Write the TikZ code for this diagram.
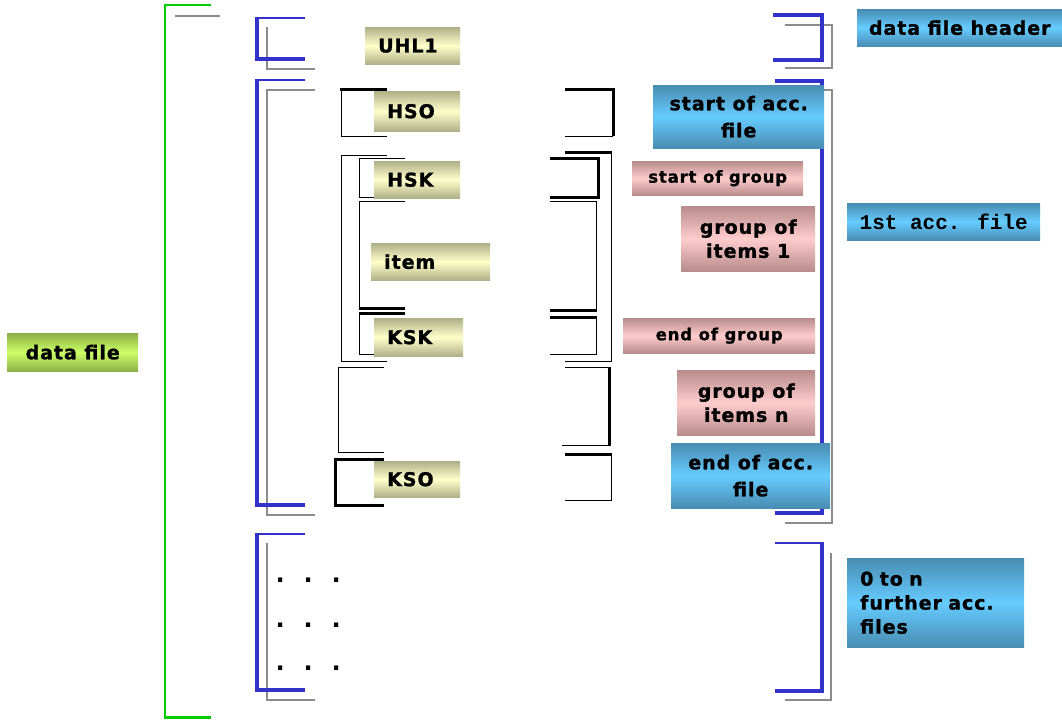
\documentclass[tikz,border=0pt]{standalone}
\usepackage{fontspec}
\setmainfont{DejaVu Sans}
\newfontfamily\vb{DejaVu Sans Bold}[LetterSpace=5,FakeBold=1.2]
\newfontfamily\mb{Liberation Mono}
\definecolor{khD}{RGB}{176,176,136}
\definecolor{khL}{RGB}{255,255,204}
\definecolor{blD}{RGB}{72,140,178}
\definecolor{blL}{RGB}{102,204,255}
\definecolor{pkD}{RGB}{184,140,140}
\definecolor{pkL}{RGB}{255,204,204}
\definecolor{grD}{RGB}{140,176,72}
\definecolor{grL}{RGB}{204,255,102}
\definecolor{bbl}{RGB}{51,51,204}
\definecolor{gln}{RGB}{0,204,0}
\definecolor{gsh}{RGB}{140,140,140}
\begin{document}
\begin{tikzpicture}[x=1pt,y=-1pt,
  bluethick/.style={draw=bbl,line width=4pt},
  bluethin/.style={draw=bbl,line width=1.6pt},
  grayline/.style={draw=gsh,line width=2pt},
  blk/.style={draw=black,line width=1pt},
  blkthick/.style={draw=black,line width=3pt},
  lbl/.style={shade,anchor=north west,inner ysep=0pt,inner xsep=0pt,align=center},
  khaki/.style={lbl,top color=khD,bottom color=khD,middle color=khL,
     font=\vb\fontsize{19}{24}\selectfont,align=left,inner xsep=13pt},
  bluebox/.style={lbl,top color=blD,bottom color=blD,middle color=blL,
     font=\vb\fontsize{19}{27}\selectfont},
  pinkbox/.style={lbl,top color=pkD,bottom color=pkD,middle color=pkL,
     font=\vb\fontsize{19}{24}\selectfont},
  pinksmall/.style={pinkbox,font=\vb\fontsize{16.5}{18}\selectfont},
  greenbox/.style={lbl,top color=grD,bottom color=grD,middle color=grL,
     font=\vb\fontsize{19}{24}\selectfont},
  dotrow/.style={anchor=base west,inner sep=0pt,font=\bfseries\fontsize{24}{24}\selectfont}
]
\useasboundingbox (0,0) rectangle (1062,724);

% green outer bracket
\draw[draw=gln,line width=1.5pt] (211,5) -- (165,5) -- (165,718);
\draw[draw=gln,line width=3pt] (164.25,717) -- (211,717);
\draw[grayline] (175,16) -- (220,16);

% left blue brackets + gray shadows
\draw[grayline] (267,27) -- (267,69) -- (315,69);
\draw[bluethin] (305,18) -- (257,18);
\draw[bluethick] (257,17) -- (257,59) -- (305,59);

\draw[grayline] (315,90) -- (267,90) -- (267,515) -- (315,515);
\draw[bluethin] (305,80) -- (257,80);
\draw[bluethick] (257,79) -- (257,505) -- (305,505);

\draw[grayline] (267,543) -- (267,700) -- (315,700);
\draw[bluethin] (305,534) -- (257,534);
\draw[bluethick] (257,533) -- (257,690) -- (305,690);

% right blue brackets + gray shadows
\draw[grayline,line width=1.6pt] (785,25) -- (832,25) -- (832,68) -- (785,68);
\draw[bluethick,line width=3.5pt] (773,15) -- (822,15) -- (822,60) -- (773,60);

\draw[grayline,line width=1.6pt] (822,90) -- (832,90) -- (832,523) -- (785,523);
\draw[bluethick] (775,81) -- (822,81) -- (822,513) -- (775,513);

\draw[grayline,line width=1.6pt] (831,553) -- (831,700) -- (785,700);
\draw[bluethin] (775,543) -- (822,543);
\draw[bluethick] (822,542) -- (822,691) -- (775,691);

% black brackets: HSO
\draw[blkthick] (387,89) -- (340,89);
\draw[blk] (341,89) -- (341,136) -- (387,136);
\draw[blkthick] (565,89) -- (613,89) -- (613,136);
\draw[blk] (613,136) -- (565,136);
% outer group
\draw[blk] (387,155) -- (341,155) -- (341,361) -- (387,361);
\draw[blkthick] (565,152) -- (612,152);
\draw[blk] (611,152) -- (611,361) -- (565,361);
% HSK
\draw[blk] (405,158) -- (359,158) -- (359,197) -- (405,197);
\draw[blkthick] (550,158) -- (598,158) -- (598,197) -- (550,197);
% item
\draw[blk] (405,201) -- (359,201) -- (359,308);
\draw[blkthick] (358.5,308) -- (405,308);
\draw[blk] (550,201) -- (596,201) -- (596,310);
\draw[blkthick] (596.5,310) -- (550,310);
% KSK
\draw[blkthick] (405,313) -- (358.5,313);
\draw[blk] (359,313) -- (359,354) -- (405,354);
\draw[blkthick] (550,317) -- (596.5,317);
\draw[blk] (596,317) -- (596,354) -- (550,354);
% group n
\draw[blk] (384,367) -- (338,367) -- (338,452) -- (384,452);
\draw[blk] (565,367) -- (609,367);
\draw[blkthick] (609,366.5) -- (609,445.5);
\draw[blk] (609,445) -- (562,445);
% KSO
\draw[blkthick] (384,459) -- (335,459) -- (335,505) -- (384,505);
\draw[blkthick] (565,454) -- (612,454);
\draw[blk] (611,454) -- (611,500) -- (565,500);

% dots
\node[dotrow] (d1) at (275.4,582) {.\hspace{18.9pt}.\hspace{18.9pt}.};
\node[dotrow] (d2) at (275.4,627) {.\hspace{18.9pt}.\hspace{18.9pt}.};
\node[dotrow] (d3) at (275.4,670) {.\hspace{18.9pt}.\hspace{18.9pt}.};

% khaki labels
\node[khaki,text width=69pt,minimum height=37pt] (uhl) at (365,27) {UHL1};
\node[khaki,text width=60pt,minimum height=40pt] (hso) at (374,91) {HSO};
\node[khaki,text width=60pt,minimum height=37pt] (hsk) at (374,161) {HSK};
\node[khaki,text width=93pt,minimum height=37pt] (item) at (371,243) {item};
\node[khaki,text width=63pt,minimum height=38pt] (ksk) at (374,318) {KSK};
\node[khaki,text width=60pt,minimum height=36pt] (kso) at (374,461) {KSO};

% right labels
\node[bluebox,minimum width=205pt,minimum height=37pt] (dfh) at (857,9) {data file header};
\node[bluebox,minimum width=171pt,minimum height=63pt] (sacc) at (653,85) {start of acc.\\file};
\node[pinksmall,minimum width=171pt,minimum height=34pt] (sgrp) at (632,161) {start of group};
\node[pinkbox,minimum width=134pt,minimum height=65pt] (g1) at (681,206) {group of\\items 1};
\node[pinksmall,minimum width=192pt,minimum height=35pt] (egrp) at (623,318) {end of group};
\node[pinkbox,minimum width=138pt,minimum height=65pt] (gn) at (677,370) {group of\\items n};
\node[bluebox,minimum width=159pt,minimum height=65pt] (eacc) at (671,443) {end of acc.\\file};
\node[bluebox,minimum width=193pt,minimum height=37pt,font=\mb\bfseries\fontsize{21}{24}\selectfont] (first) at (847,203) {1st acc. file};
\node[bluebox,text width=151pt,minimum height=89pt,align=left,inner xsep=13pt,font=\vb\fontsize{19}{24}\selectfont] (further) at (847,558) {0 to n\\further acc.\\files};
\node[greenbox,minimum width=131pt,minimum height=38pt] (df) at (7,333) {data file};
\end{tikzpicture}
\end{document}
